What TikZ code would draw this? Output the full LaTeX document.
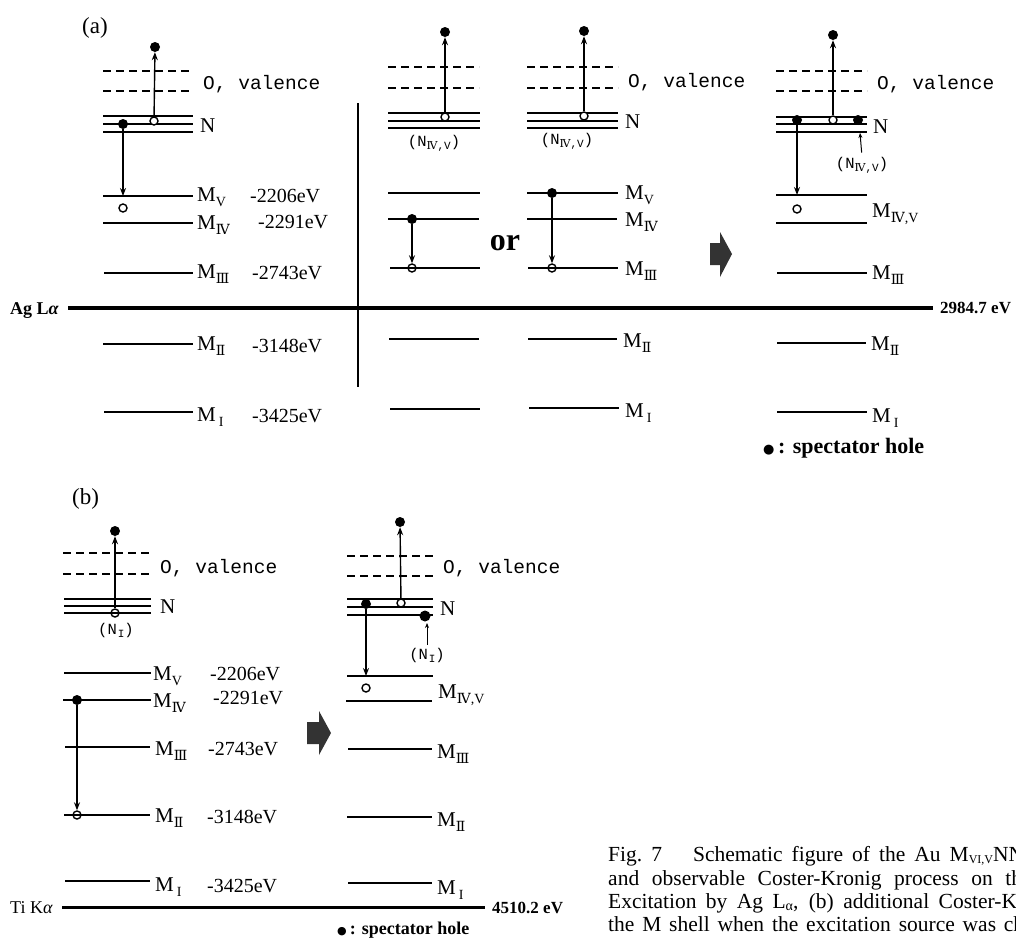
\documentclass[tikz,border=0pt]{standalone}
\usepackage{fontspec}
\setmainfont{Liberation Serif}
\newfontfamily\monof{Liberation Mono}
\newfontfamily\rnf{DejaVu Serif}
\newfontfamily\dvs{DejaVu Sans}
\usetikzlibrary{arrows.meta}
\newcommand{\fs}[1]{\fontsize{#1}{#1}\selectfont}
\newcommand{\RN}[1]{{\rnf #1}}
\newcommand{\Ml}[1]{M\raisebox{-5pt}{\fs{14}#1}}
\newcommand{\Nsub}[1]{(N\raisebox{-3pt}{\fs{11}#1})}
\begin{document}
\begin{tikzpicture}[x=1pt,y=-1pt,
  lvl/.style={line width=1.7pt},
  dsh/.style={line width=1.5pt,dash pattern=on 8pt off 5pt},
  agline/.style={line width=3.5pt},
  edot/.style={circle,fill=black,inner sep=0pt,minimum size=10pt},
  hole/.style={circle,draw=black,line width=1.4pt,inner sep=0pt,minimum size=8pt},
  holew/.style={hole,fill=white},
  arr/.style={line width=1.4pt,-{Stealth[length=8pt,width=6pt]}},
  sarr/.style={line width=1pt,-{Stealth[length=5pt,width=4pt]}},
  lab/.style={anchor=base west,inner sep=0pt,font=\fs{21}},
  en/.style={anchor=base west,inner sep=0pt,font=\fs{20}},
  val/.style={anchor=base west,inner sep=0pt,font=\monof\fs{19.5}},
  nsub/.style={anchor=base,inner sep=0pt,font=\monof\fs{15.5}},
  evb/.style={anchor=base west,inner sep=0pt,font=\bfseries\fs{17}},
  blk/.style={fill=black!80,draw=none},
  captxt/.style={anchor=base west,inner sep=0pt,font=\fs{21.5}}]
\useasboundingbox (0,0) rectangle (1016,937);
\clip (0,0) rectangle (1016,937);

% ---------------- (a) ----------------
\node[anchor=base west,inner sep=0pt,font=\fs{23}] (la) at (82,33) {(a)};

% a1
\draw[dsh] (103,71) -- (193,71);
\draw[dsh] (103,91) -- (193,91);
\foreach \yy in {116,124,132} \draw[lvl] (103,\yy) -- (193,\yy);
\draw[lvl] (103,196) -- (193,196);
\draw[lvl] (103,223) -- (193,223);
\draw[lvl] (104,273) -- (193,273);
\draw[lvl] (103,344) -- (193,344);
\draw[lvl] (104,412) -- (193,412);
\node[val] (a1val) at (203,89) {O, valence};
\node[lab] (a1N) at (200,132) {N};
\node[lab] (a1m5) at (197,201) {\Ml{V}};
\node[lab] (a1m4) at (197,229) {\Ml{\RN{Ⅳ}}};
\node[lab] (a1m3) at (197,278) {\Ml{\RN{Ⅲ}}};
\node[lab] (a1m2) at (197,350) {\Ml{\RN{Ⅱ}}};
\node[lab] (a1m1) at (197,421) {\Ml{\hspace{3pt}I}};
\node[en] (a1e5) at (250,202) {-2206eV};
\node[en] (a1e4) at (258,228) {-2291eV};
\node[en] (a1e3) at (252,279) {-2743eV};
\node[en] (a1e2) at (252,352) {-3148eV};
\node[en] (a1e1) at (252,422) {-3425eV};
\node[edot] (a1top) at (155,47) {};
\node[holew] (a1h) at (154,121) {};
\node[edot] (a1d) at (123,124) {};
\coordinate (a1t) at (123,196);
\node[hole] (a1h2) at (123,208) {};
\draw[arr] (a1h) -- (a1top);
\draw[arr] (a1d) -- (a1t);

% separator
\draw[line width=2pt] (358,103) -- (358,387);

% Ag L alpha line
\node[anchor=base west,inner sep=0pt,font=\bfseries\fs{18}] (agl) at (10,314) {Ag L\textit{α}};
\draw[agline] (68,308) -- (933,308);
\node[evb] (agev) at (940,313) {2984.7 eV};

% a2
\draw[dsh] (388,67) -- (479,67);
\draw[dsh] (388,88) -- (479,88);
\foreach \yy in {113,121,128} \draw[lvl] (388,\yy) -- (480,\yy);
\draw[lvl] (388,193) -- (480,193);
\draw[lvl] (388,219) -- (479,219);
\draw[lvl] (390,268) -- (480,268);
\draw[lvl] (389,339) -- (479,339);
\draw[lvl] (390,409) -- (480,409);
\node[nsub] (a2nl) at (434,146) {\Nsub{\RN{Ⅳ},V}};
\node[edot] (a2top) at (445,32) {};
\node[holew] (a2h) at (445,117) {};
\draw[arr] (a2h) -- (a2top);
\node[edot] (a2d) at (412,219) {};
\node[hole] (a2h2) at (412,268) {};
\draw[arr] (a2d) -- (a2h2);

\node[anchor=base,inner sep=0pt,font=\bfseries\fs{32}] (or) at (505,250) {or};

% a3
\draw[dsh] (527,67) -- (618,67);
\draw[dsh] (527,88) -- (618,88);
\foreach \yy in {113,121,128} \draw[lvl] (527,\yy) -- (618,\yy);
\draw[lvl] (527,193) -- (618,193);
\draw[lvl] (527,219) -- (617,219);
\draw[lvl] (528,268) -- (618,268);
\draw[lvl] (528,339) -- (617,339);
\draw[lvl] (529,408) -- (619,408);
\node[val] (a3val) at (628,87) {O, valence};
\node[lab] (a3N) at (625,128) {N};
\node[nsub] (a3nl) at (567,144) {\Nsub{\RN{Ⅳ},V}};
\node[lab] (a3m5) at (625,199) {\Ml{V}};
\node[lab] (a3m4) at (625,226) {\Ml{\RN{Ⅳ}}};
\node[lab] (a3m3) at (625,275) {\Ml{\RN{Ⅲ}}};
\node[lab] (a3m2) at (623,347) {\Ml{\RN{Ⅱ}}};
\node[lab] (a3m1) at (625,417) {\Ml{\hspace{3pt}I}};
\node[edot] (a3top) at (584,31) {};
\node[holew] (a3h) at (584,116) {};
\draw[arr] (a3h) -- (a3top);
\node[edot] (a3d) at (552,193) {};
\node[hole] (a3h2) at (552,268) {};
\draw[arr] (a3d) -- (a3h2);

% block arrow a
\fill[blk] (710,243) -- (720,243) -- (720,232) -- (732,254) -- (720,277) -- (720,265) -- (710,265) -- cycle;

% a4
\draw[dsh] (776,71) -- (867,71);
\draw[dsh] (776,91) -- (867,91);
\foreach \yy in {117,124,132} \draw[lvl] (776,\yy) -- (867,\yy);
\draw[lvl] (776,195) -- (867,195);
\draw[lvl] (776,223) -- (867,223);
\draw[lvl] (777,273) -- (867,273);
\draw[lvl] (777,343) -- (866,343);
\draw[lvl] (777,412) -- (867,412);
\node[val] (a4val) at (877,89) {O, valence};
\node[lab] (a4N) at (873,133) {N};
\node[lab] (a4m45) at (872,217) {\Ml{\RN{Ⅳ},V}};
\node[lab] (a4m3) at (872,279) {\Ml{\RN{Ⅲ}}};
\node[lab] (a4m2) at (871,350) {\Ml{\RN{Ⅱ}}};
\node[lab] (a4m1) at (872,422) {\Ml{\hspace{3pt}I}};
\node[edot] (a4top) at (833,35) {};
\node[holew] (a4h) at (833,120) {};
\node[edot] (a4d) at (797,120) {};
\node[edot] (a4d2) at (858,120) {};
\draw[arr] (a4h) -- (a4top);
\coordinate (a4t) at (797,195);
\draw[arr] (a4d) -- (a4t);
\node[hole] (a4h2) at (797,209) {};
\node[nsub] (a4nl) at (862,168) {\Nsub{\RN{Ⅳ},V}};
\coordinate (a4s) at (860,133);
\draw[sarr,shorten <=4pt] (a4nl.north) -- (a4s);
\node[anchor=base west,inner sep=0pt,font=\bfseries\fs{22}] (a4sp) at (763,453) {{\dvs\fs{13}●}\,: spectator hole};

% ---------------- (b) ----------------
\node[anchor=base west,inner sep=0pt,font=\fs{23}] (lb) at (72,504) {(b)};

% b1
\draw[dsh] (63,553) -- (151,553);
\draw[dsh] (63,574) -- (151,574);
\foreach \yy in {599,606,613} \draw[lvl] (64,\yy) -- (151,\yy);
\draw[lvl] (64,673) -- (151,673);
\draw[lvl] (63,700) -- (151,700);
\draw[lvl] (65,747) -- (150,747);
\draw[lvl] (64,815) -- (150,815);
\draw[lvl] (65,881) -- (150,881);
\node[val] (b1val) at (160,573) {O, valence};
\node[lab] (b1N) at (160,613) {N};
\node[nsub] (b1nl) at (116,634) {\Nsub{\hspace{1pt}I}};
\node[lab] (b1m5) at (153,680) {\Ml{V}};
\node[lab] (b1m4) at (153,707) {\Ml{\RN{Ⅳ}}};
\node[lab] (b1m3) at (155,755) {\Ml{\RN{Ⅲ}}};
\node[lab] (b1m2) at (155,822) {\Ml{\RN{Ⅱ}}};
\node[lab] (b1m1) at (155,891) {\Ml{\hspace{3pt}I}};
\node[en] (b1e5) at (210,680) {-2206eV};
\node[en] (b1e4) at (213,704) {-2291eV};
\node[en] (b1e3) at (208,755) {-2743eV};
\node[en] (b1e2) at (207,823) {-3148eV};
\node[en] (b1e1) at (207,892) {-3425eV};
\node[edot] (b1top) at (115,531) {};
\node[hole] (b1h) at (115,613) {};
\draw[arr] (b1h) -- (b1top);
\node[edot] (b1d) at (77,700) {};
\node[hole] (b1h2) at (77,815) {};
\draw[arr] (b1d) -- (b1h2);

% Ti K alpha line
\node[anchor=base west,inner sep=0pt,font=\fs{18}] (tik) at (10,913) {Ti K\textit{α}};
\draw[line width=3pt] (62,907) -- (485,907);
\node[evb] (tiev) at (492,913) {4510.2 eV};

% block arrow b
\fill[blk] (307,722) -- (319,722) -- (319,711) -- (331,733) -- (319,755) -- (319,744) -- (307,744) -- cycle;

% b2
\draw[dsh] (347,556) -- (433,556);
\draw[dsh] (347,576) -- (433,576);
\foreach \yy in {599,607,615} \draw[lvl] (347,\yy) -- (433,\yy);
\draw[lvl] (347,676) -- (433,676);
\draw[lvl] (346,701) -- (432,701);
\draw[lvl] (348,749) -- (432,749);
\draw[lvl] (347,817) -- (432,817);
\draw[lvl] (348,883) -- (432,883);
\node[val] (b2val) at (443,573) {O, valence};
\node[lab] (b2N) at (440,615) {N};
\node[lab] (b2m45) at (438,698) {\Ml{\RN{Ⅳ},V}};
\node[lab] (b2m3) at (437,758) {\Ml{\RN{Ⅲ}}};
\node[lab] (b2m2) at (437,826) {\Ml{\RN{Ⅱ}}};
\node[lab] (b2m1) at (437,894) {\Ml{\hspace{3pt}I}};
\node[edot] (b2top) at (400,522) {};
\node[holew] (b2h) at (401,603) {};
\node[edot] (b2d) at (366,604) {};
\node[edot,minimum size=11pt] (b2d2) at (425,616) {};
\draw[arr] (b2h) -- (b2top);
\coordinate (b2t) at (366,676);
\draw[arr] (b2d) -- (b2t);
\node[hole] (b2h2) at (366,688) {};
\node[nsub] (b2nl) at (427,659) {\Nsub{\hspace{1pt}I}};
\coordinate (b2s) at (427,623);
\draw[sarr,shorten <=3pt] (b2nl.north) -- (b2s);
\node[anchor=base west,inner sep=0pt,font=\bfseries\fs{18}] (b2sp) at (337,934) {{\dvs\fs{11}●}\,: spectator hole};

% ---------------- caption ----------------
\node[captxt] (c1) at (608,861) {\makebox[416pt][s]{Fig.~7\hspace{22pt} Schematic figure of the Au M\raisebox{-2pt}{\fs{12}VI,V}NN}};
\node[captxt] (c2) at (608,885) {\makebox[414pt][s]{and observable Coster-Kronig process on th}};
\node[captxt] (c3) at (608,908) {\makebox[416pt][s]{Excitation by Ag L\raisebox{-2pt}{\fs{14}α}, (b) additional Coster-Kr}};
\node[captxt] (c4) at (608,931) {\makebox[416pt][s]{the M shell when the excitation source was ch}};
\end{tikzpicture}
\end{document}
